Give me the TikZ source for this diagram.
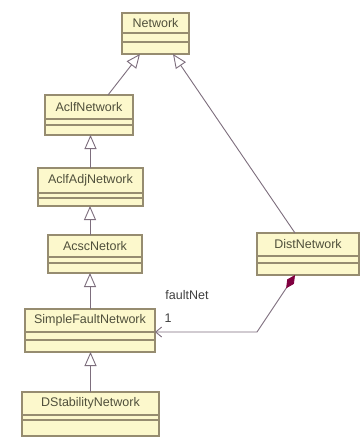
\documentclass[tikz,border=0pt]{standalone}
\usepackage{fontspec}
\setmainfont{Liberation Sans}
\usetikzlibrary{positioning,arrows.meta}
\definecolor{boxfill}{RGB}{252,248,204}
\definecolor{boxline}{RGB}{150,140,112}
\definecolor{boxtext}{RGB}{80,80,60}
\definecolor{edgeline}{RGB}{125,110,125}
\definecolor{comp}{RGB}{128,0,64}
\begin{document}
\begin{tikzpicture}[x=1pt,y=-1pt,font=\fontsize{12.5}{14}\selectfont]
      \tikzstyle{name part}=[draw=boxline,fill=boxfill,text=boxtext,inner sep=0,outer sep=0,line width=1.1pt]
      \tikzstyle{empty part}=[draw=boxline,fill=boxfill,inner sep=0,outer sep=0,line width=1.1pt,below=0pt of #1]
      \tikzstyle{inherit}=[draw=edgeline,line width=0.9pt,-{Triangle[open,width=12pt,length=14pt]}]
      \tikzstyle{owns}=[draw=edgeline,line width=0.9pt,{Diamond[width=8pt,length=16pt,fill=comp,color=comp]}-{Straight Barb[length=6pt,width=10pt]}]
      \tikzstyle{role}=[text=black!75,inner sep=0]

      \useasboundingbox[fill=white] (0,0) rectangle (360,441);

      \node(net)[name part,minimum width=67,minimum height=20] at (155.5,23) {Network};
      \node(net-a)[empty part=net,minimum width=67,minimum height=9]{};
      \node(net-o)[empty part=net-a,minimum width=67,minimum height=12]{};

      \node(aclf)[name part,minimum width=88,minimum height=24] at (89,107) {AclfNetwork};
      \node(aclf-a)[empty part=aclf,minimum width=88,minimum height=6]{};
      \node(aclf-o)[empty part=aclf-a,minimum width=88,minimum height=10]{};

      \node(adj)[name part,minimum width=105,minimum height=25] at (90.5,180.5) {AclfAdjNetwork};
      \node(adj-a)[empty part=adj,minimum width=105,minimum height=5]{};
      \node(adj-o)[empty part=adj-a,minimum width=105,minimum height=8]{};

      \node(acsc)[name part,minimum width=94,minimum height=22] at (95,246) {AcscNetork};
      \node(acsc-a)[empty part=acsc,minimum width=94,minimum height=6]{};
      \node(acsc-o)[empty part=acsc-a,minimum width=94,minimum height=10]{};

      \node(sfn)[name part,minimum width=130,minimum height=23] at (90,320.5) {SimpleFaultNetwork};
      \node(sfn-a)[empty part=sfn,minimum width=130,minimum height=8]{};
      \node(sfn-o)[empty part=sfn-a,minimum width=130,minimum height=12]{};

      \node(dstab)[name part,minimum width=137,minimum height=23] at (90.5,403.5) {DStabilityNetwork};
      \node(dstab-a)[empty part=dstab,minimum width=137,minimum height=5]{};
      \node(dstab-o)[empty part=dstab-a,minimum width=137,minimum height=16]{};

      \node(dist)[name part,minimum width=102,minimum height=23] at (308,244.5) {DistNetwork};
      \node(dist-a)[empty part=dist,minimum width=102,minimum height=7]{};
      \node(dist-o)[empty part=dist-a,minimum width=102,minimum height=12]{};

      \draw[inherit] ([xshift=19pt]aclf.north) -- ([xshift=-15.5pt]net-o.south);
      \draw[inherit] ([xshift=-13pt]dist.north) -- ([xshift=17.5pt]net-o.south);
      \draw[inherit] (adj.north) -- (adj.north |- aclf-o.south);
      \draw[inherit] ([xshift=-5pt]acsc.north) -- ([xshift=-5pt]acsc.north |- adj-o.south);
      \draw[inherit] (sfn.north) -- (sfn.north |- acsc-o.south);
      \draw[inherit] (dstab.north) -- (dstab.north |- sfn-o.south);

      \coordinate(bend) at (dist.west |- sfn-a.north east);
      \draw[owns] ([xshift=-13pt]dist-o.south) -- (bend) -- (sfn-a.north east);
      \node(faultnet)[role] at (187,295) {faultNet};
      \node(mult)[role] at (168,318) {1};
\end{tikzpicture}
\end{document}
